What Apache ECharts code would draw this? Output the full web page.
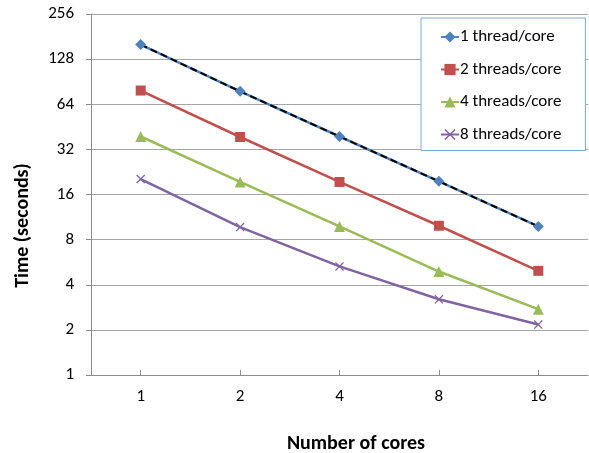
<!DOCTYPE html>
<html>
<head>
<meta charset="utf-8">
<script src="https://cdn.jsdelivr.net/npm/echarts@6/dist/echarts.min.js"></script>
<style>
  html, body { margin: 0; padding: 0; background: #fff; }
  #chart { width: 589px; height: 453px; }
</style>
</head>
<body>
<div id="chart"></div>
<script>
// cores on the x axis
const cores = ["1", "2", "4", "8", "16"];

// run time in seconds
const oneThread = [160, 78, 39, 19.6, 9.8];
const twoThreads = [79, 38.7, 19.4, 9.9, 4.95];
const fourThreads = [39, 19.4, 9.8, 4.9, 2.75];
const eightThreads = [20.3, 9.7, 5.3, 3.2, 2.17];

const seriesNames = ["1 thread/core", "2 threads/core", "4 threads/core", "8 threads/core"];
const colors = ["#4F81BD", "#C0504D", "#9BBB59", "#8064A2"];

const FONT = "Carlito, Lato, sans-serif";
const crossPath = "path://M0,1L1,0L5,4L9,0L10,1L6,5L10,9L9,10L5,6L1,10L0,9L4,5Z";

const chart = echarts.init(document.getElementById("chart"));

function lineSeries(name, data, color, symbol, size) {
  return {
    name: name,
    type: "line",
    data: data,
    symbol: symbol,
    symbolSize: size,
    showSymbol: true,
    color: color,
    lineStyle: { color: color, width: 2.5 },
    itemStyle: { color: color },
    emphasis: { disabled: true },
    animation: false
  };
}

const option = {
  animation: false,
  textStyle: { fontFamily: FONT },
  grid: { left: 91, right: 1, top: 14, bottom: 78, containLabel: false, outerBoundsMode: "none" },
  legend: {
    data: seriesNames,
    orient: "vertical",
    left: 421,
    top: 18,
    padding: [9, 24, 6, 19],
    itemWidth: 18,
    itemHeight: 14,
    itemGap: 12.5,
    backgroundColor: "#fff",
    borderColor: "#7FA6D8",
    borderWidth: 1,
    borderRadius: 0,
    textStyle: { fontFamily: FONT, fontSize: 17, lineHeight: 20, color: "#000", padding: [0, 0, 0, -4] }
  },
  xAxis: {
    type: "category",
    data: cores,
    boundaryGap: true,
    name: "Number of cores",
    nameLocation: "middle",
    nameGap: 59,
    nameTextStyle: { fontFamily: FONT, fontSize: 20, fontWeight: "bold", color: "#000", padding: [0, 0, 0, 33] },
    axisLine: { lineStyle: { color: "#8C8C8C", width: 1 } },
    axisTick: { show: true, alignWithLabel: true, inside: true, length: 5, lineStyle: { color: "#8C8C8C" } },
    axisLabel: { fontFamily: FONT, fontSize: 17, color: "#000", margin: 13 },
    splitLine: { show: false }
  },
  yAxis: {
    type: "log",
    logBase: 2,
    min: 1,
    max: 256,
    interval: 1,
    name: "Time (seconds)",
    nameLocation: "middle",
    nameGap: 58,
    nameRotate: 90,
    nameTextStyle: { fontFamily: FONT, fontSize: 20, fontWeight: "bold", color: "#000", padding: [0, 62, 0, 0] },
    axisLine: { show: true, lineStyle: { color: "#8C8C8C", width: 1 } },
    axisTick: { show: true, inside: false, length: 5, lineStyle: { color: "#8C8C8C" } },
    axisLabel: { fontFamily: FONT, fontSize: 17, color: "#000", margin: 17 },
    splitLine: { show: true, lineStyle: { color: "#A6A6A6", width: 1 } }
  },
  series: [
    lineSeries(seriesNames[0], oneThread, colors[0], "diamond", 11),
    lineSeries(seriesNames[1], twoThreads, colors[1], "rect", 10),
    lineSeries(seriesNames[2], fourThreads, colors[2], "triangle", 11),
    lineSeries(seriesNames[3], eightThreads, colors[3], crossPath, 9),
    {
      name: "trend",
      type: "line",
      data: oneThread,
      symbol: "none",
      lineStyle: { color: "#000", width: 2, type: [7, 4] },
      z: 3,
      emphasis: { disabled: true },
      animation: false
    }
  ]
};

chart.setOption(option);
window.addEventListener("resize", () => chart.resize());
</script>
</body>
</html>
